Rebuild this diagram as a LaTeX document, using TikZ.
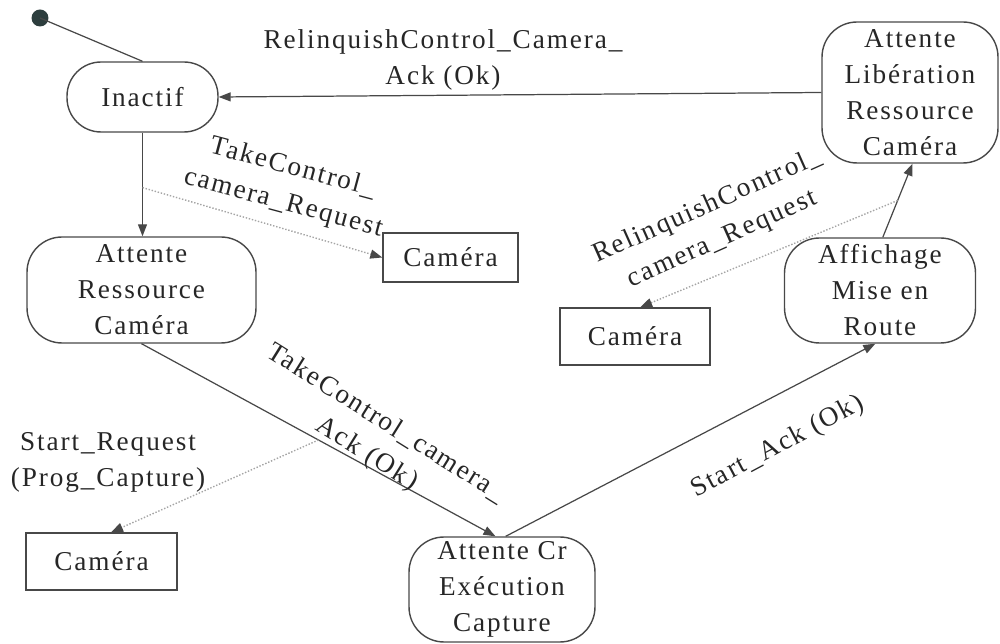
\documentclass[tikz,border=0pt]{standalone}
\usepackage{fontspec}
\setmainfont[LetterSpace=7]{Liberation Serif}
\usetikzlibrary{arrows.meta,calc}
\definecolor{inkcolor}{RGB}{38,38,38}
\definecolor{edgecolor}{RGB}{72,72,72}
\definecolor{sendcolor}{RGB}{165,165,165}
\definecolor{initcolor}{RGB}{45,62,62}
\tikzset{
  statebox/.style={draw=edgecolor, line width=0.8pt, rounded corners=0.7cm, align=center, inner sep=0pt, text=inkcolor},
  objbox/.style={draw=edgecolor, line width=0.8pt, align=center, inner sep=0pt, text=inkcolor},
  transln/.style={-{Triangle[length=2.4mm,width=1.8mm]}, line width=0.7pt, edgecolor},
  sendln/.style={-{Triangle[length=2.4mm,width=1.8mm,color=edgecolor]}, line width=0.8pt, sendcolor, densely dotted},
  lbl/.style={align=center, text=inkcolor, inner sep=0pt},
}

\begin{document}
\begin{tikzpicture}[x=0.02cm, y=-0.02cm, font=\fontsize{15.5}{20.5}\selectfont]
    \useasboundingbox (0,0) rectangle (1000,644);
    % states
    \fill[initcolor] (40,18) circle (0.17cm) coordinate (init);
    \node[statebox, rounded corners=0.68cm, minimum width=3.02cm, minimum height=1.4cm] (inactif) at (142.5,97) {Inactif};
    \node[statebox, minimum width=4.58cm, minimum height=2.12cm] (attRes) at (141.5,290) {Attente\\Ressource\\Caméra};
    \node[statebox, minimum width=3.52cm, minimum height=2.82cm] (attLib) at (910,92.5) {Attente\\Libération\\Ressource\\Caméra};
    \node[statebox, minimum width=3.82cm, minimum height=2.1cm] (affich) at (880,290.5) {Affichage\\Mise en\\Route};
    \node[statebox, minimum width=3.72cm, minimum height=2.1cm] (attCr) at (502,589.5) {Attente Cr\\Exécution\\Capture};
    % objects
    \node[objbox, minimum width=2.7cm, minimum height=0.98cm] (cam1) at (450.5,257.5) {Caméra};
    \node[objbox, minimum width=3.0cm, minimum height=1.14cm] (cam2) at (635,336.5) {Caméra};
    \node[objbox, minimum width=3.02cm, minimum height=1.14cm] (cam3) at (101.5,561.5) {Caméra};
    % transitions
    \draw[line width=0.7pt, edgecolor] (init) -- (inactif.north);
    \draw[transln] (attLib.west) -- (inactif.east);
    \draw[transln] (inactif.south) -- coordinate[pos=0.53] (takeReqPt) (inactif.south |- attRes.north);
    \draw[transln] (attRes.south) -- coordinate[pos=0.5] (startReqPt) (attCr.97);
    \draw[transln] (attCr.86) -- (affich.-95);
    \draw[transln] (affich.87) -- coordinate[pos=0.5] (relReqPt) (attLib.-88);
    % messages to the camera
    \draw[sendln] (takeReqPt) -- (cam1.west);
    \draw[sendln] (startReqPt) -- (cam3.72);
    \draw[sendln] (relReqPt) -- (cam2.80);
    % labels
    \node[lbl] (lblRelAck) at (443,60) {RelinquishControl\_Camera\_\\Ack (Ok)};
    \node[lbl, rotate=-15] (lblTakeReq) at (288,186) {TakeControl\_\\camera\_Request};
    \node[lbl, rotate=-32] (lblTakeAck) at (376,439) {TakeControl\_camera\_\\Ack (Ok)};
    \node[lbl] (lblStartReq) at (108,462) {Start\_Request\\(Prog\_Capture)};
    \node[lbl, rotate=28] (lblStartAck) at (778,447) {Start\_Ack (Ok)};
    \node[lbl, rotate=24] (lblRelReq) at (715,223) {RelinquishControl\_\\camera\_Request};
\end{tikzpicture}
\end{document}
